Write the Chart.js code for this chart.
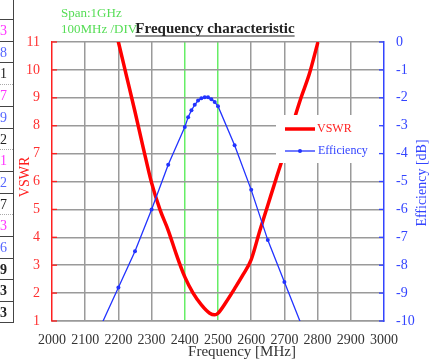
<!DOCTYPE html>
<html>
<head>
<meta charset="utf-8">
<script src="https://cdn.jsdelivr.net/npm/chart.js@4"></script>
<style>
  body { margin: 0; background: #fff; }
  #wrap { position: relative; width: 436px; height: 361px; overflow: hidden; }
  #table { position: absolute; left: 0; top: 0; width: 13px; height: 323px; border-right: 1.5px solid #444; }
  .row { position: absolute; left: 0; width: 13px; height: 21.7px; font: 14px 'Liberation Serif', serif;
         line-height: 21.7px; box-sizing: border-box; }
  .row span { position: absolute; right: 6px; }
</style>
</head>
<body>
<div id="wrap">
  <canvas id="chart"></canvas>
  <div id="table"></div>
</div>
<script>
// data
const vswrFreq = [2200, 2225, 2250, 2275, 2300, 2325, 2350, 2375, 2400, 2425, 2450, 2475, 2490, 2500,
                  2525, 2550, 2575, 2600, 2625, 2650, 2675, 2700, 2725, 2750, 2775, 2800];
const vswr = [11.0, 9.75, 8.5, 7.2, 5.95, 5.0, 4.25, 3.37, 2.58, 2.0, 1.58, 1.28, 1.22, 1.28,
              1.69, 2.16, 2.65, 3.2, 4.2, 5.15, 6.1, 7.03, 8.05, 9.0, 9.85, 10.95];

const effFreq = [2150, 2200, 2250, 2300, 2350, 2400, 2410, 2420, 2430, 2440, 2450, 2460, 2470, 2480,
                 2490, 2500, 2550, 2600, 2650, 2700, 2750];
const efficiency = [-10.1, -8.8, -7.5, -6.0, -4.4, -3.05, -2.7, -2.45, -2.25, -2.1, -2.02, -1.98, -1.98, -2.05,
                    -2.15, -2.3, -3.7, -5.3, -7.1, -8.6, -10.1];

const markedFreqs = [2400, 2500]; // green lines
const tableValues = ['3', '8', '1', '7', '9', '2', '1', '2', '7', '3', '6', '9', '3', '3'];
const tableColors = ['#ff33ff', '#5566ff', '#222', '#ff33ff', '#5566ff', '#222', '#ff33ff', '#5566ff', '#222',
                     '#ff33ff', '#5566ff', '#222', '#222', '#222'];

// cropped table on the left edge
const table = document.getElementById('table');
tableValues.forEach((v, i) => {
  const row = document.createElement('div');
  row.className = 'row';
  row.style.top = (19 + i * 21.7) + 'px';
  row.style.borderTop = (i % 3 === 0 && i > 0 && i < 10) ? '1px dotted #aaa' : '1.5px solid #444';
  if (i === tableValues.length - 1) row.style.borderBottom = '1.5px solid #444';
  const s = document.createElement('span');
  s.textContent = v;
  s.style.color = tableColors[i];
  if (i >= 11) s.style.fontWeight = 'bold';
  row.appendChild(s);
  table.appendChild(row);
});

const serif = "'Liberation Serif', serif";

const extras = {
  id: 'extras',
  afterDatasetsDraw(chart) {
    const c = chart.ctx;
    c.save();
    // legend box inside the plot
    c.fillStyle = '#fff';
    c.fillRect(276, 115, 106.5, 48);
    c.lineCap = 'butt';
    c.strokeStyle = '#ff0000';
    c.lineWidth = 3.5;
    c.beginPath(); c.moveTo(285, 129); c.lineTo(315, 129); c.stroke();
    c.strokeStyle = '#2233ff';
    c.lineWidth = 1.3;
    c.beginPath(); c.moveTo(285, 151); c.lineTo(315, 151); c.stroke();
    c.fillStyle = '#2233ff';
    c.beginPath(); c.arc(300, 151, 2, 0, Math.PI * 2); c.fill();
    c.font = '12px ' + serif;
    c.textBaseline = 'middle';
    c.fillStyle = '#ff2020';
    c.fillText('VSWR', 317, 129);
    c.fillStyle = '#3344ff';
    c.fillText('Efficiency', 318, 151);
    c.restore();
  },
  afterDraw(chart) {
    const c = chart.ctx;
    const y = chart.scales.y, y1 = chart.scales.y1, x = chart.scales.x;
    c.save();
    // inward ticks
    c.lineWidth = 1.3;
    c.strokeStyle = '#ff2020';
    for (let v = 1; v <= 11; v++) {
      const py = y.getPixelForValue(v);
      c.beginPath(); c.moveTo(x.left, py); c.lineTo(x.left + 5, py); c.stroke();
    }
    c.strokeStyle = '#3344ff';
    for (let v = -10; v <= 0; v++) {
      const py = y1.getPixelForValue(v);
      c.beginPath(); c.moveTo(x.right, py); c.lineTo(x.right - 5, py); c.stroke();
    }
    // span text
    c.font = '13px ' + serif;
    c.textBaseline = 'middle';
    c.fillStyle = '#55dd55';
    c.fillText('Span:1GHz', 61, 14);
    c.fillText('100MHz /DIV', 61, 30);
    // title
    c.font = 'bold 15px ' + serif;
    c.fillStyle = '#222';
    c.textBaseline = 'alphabetic';
    const t = 'Frequency characteristic';
    const w = c.measureText(t).width;
    c.fillText(t, 215 - w / 2, 33);
    c.strokeStyle = '#222';
    c.lineWidth = 1;
    c.beginPath(); c.moveTo(215 - w / 2, 36); c.lineTo(215 + w / 2, 36); c.stroke();
    // axis titles
    c.font = '15px ' + serif;
    c.fillStyle = '#333';
    c.textAlign = 'center';
    c.textBaseline = 'middle';
    c.fillText('Frequency [MHz]', 242, 352);
    c.font = '14px ' + serif;
    c.fillStyle = '#ff2020';
    c.translate(25, 177);
    c.rotate(-Math.PI / 2);
    c.fillText('VSWR', 0, 0);
    c.setTransform(1, 0, 0, 1, 0, 0);
    c.fillStyle = '#3344ff';
    c.translate(422, 183);
    c.rotate(-Math.PI / 2);
    c.fillText('Efficiency [dB]', 0, 0);
    c.restore();
  }
};

new Chart(document.getElementById('chart'), {
  type: 'line',
  data: {
    datasets: [{
      label: 'Efficiency',
      data: effFreq.map((f, i) => ({ x: f, y: efficiency[i] })),
      yAxisID: 'y1',
      borderColor: '#2233ff',
      backgroundColor: '#2233ff',
      borderWidth: 1.3,
      pointRadius: 2,
      pointBorderWidth: 0,
      clip: 0
    }, {
      label: 'VSWR',
      data: vswrFreq.map((f, i) => ({ x: f, y: vswr[i] })),
      yAxisID: 'y',
      borderColor: '#ff0000',
      borderWidth: 3.5,
      pointRadius: 0,
      cubicInterpolationMode: 'monotone',
      borderCapStyle: 'round',
      borderJoinStyle: 'round',
      clip: 0
    }]
  },
  options: {
    responsive: true,
    maintainAspectRatio: false,
    animation: false,
    layout: { padding: { top: 42, left: 0, right: 0, bottom: 0 } },
    plugins: { legend: { display: false }, tooltip: { enabled: false } },
    scales: {
      x: {
        type: 'linear',
        min: 2000, max: 3000,
        afterFit: s => { s.height = 40; },
        ticks: { stepSize: 100, autoSkip: false, maxRotation: 0, padding: 11, color: '#333',
                 font: { family: serif, size: 14 }, callback: v => String(v) },
        grid: {
          drawTicks: false,
          lineWidth: 1.5,
          color: ctx => {
            const v = ctx.tick && ctx.tick.value;
            if (v === 2000 || v === 3000) return 'rgba(0,0,0,0)';
            return markedFreqs.includes(v) ? '#66ee66' : '#9a9a9a';
          }
        },
        border: { color: '#9a9a9a', width: 1.5 }
      },
      y: {
        position: 'left',
        min: 1, max: 11,
        afterFit: s => { s.width = 52; },
        ticks: { stepSize: 1, padding: 12, color: '#ff3030', font: { family: serif, size: 14 } },
        grid: { drawTicks: false, lineWidth: 1.5, color: '#9a9a9a' },
        border: { color: '#ff2020', width: 1.5 }
      },
      y1: {
        position: 'right',
        min: -10, max: 0,
        afterFit: s => { s.width = 52; },
        ticks: { stepSize: 1, padding: 12, color: '#3344ff', font: { family: serif, size: 14 } },
        grid: { display: false, drawTicks: false },
        border: { color: '#3344ff', width: 1.5 }
      }
    }
  },
  plugins: [extras]
});
</script>
</body>
</html>
